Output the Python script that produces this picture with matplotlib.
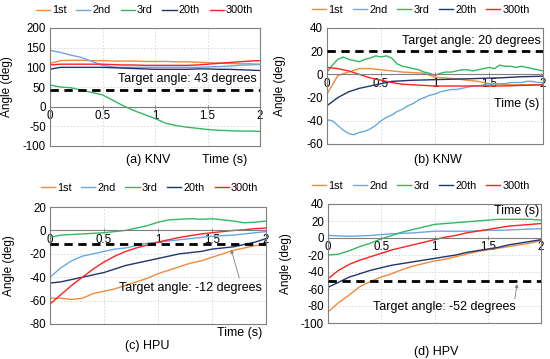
import numpy as np
import matplotlib
matplotlib.use("Agg")
import matplotlib.pyplot as plt

plt.rcParams['font.family'] = ['Liberation Sans', 'DejaVu Sans']
plt.rcParams['font.size'] = 8.3
plt.rcParams['axes.unicode_minus'] = False

# time axes (s)
t = np.round(np.arange(0, 2.01, 0.1), 2)
t_fine = np.round(np.arange(0, 2.001, 0.05), 2)

labels = ['1st', '2nd', '3rd', '20th', '300th']
colors = ['#F08A3C', '#6AA8E0', '#33B860', '#22336E', '#FF2020']

# (a) KNV
knv_1st = [110, 117, 118, 118, 117, 117, 116, 116, 116, 115, 115, 115, 114, 114, 113, 112, 111, 110, 109, 109, 108]
knv_2nd = [143, 138, 131, 125, 115, 105, 101, 100, 100, 100, 100, 100, 100, 100, 100, 101, 102, 103, 105, 106, 107]
knv_3rd = [55, 50, 48, 42, 36, 30, 16, 2, -10, -20, -30, -42, -48, -52, -55, -58, -60, -61, -62, -62, -63]
knv_20th = [95, 100, 100, 100, 100, 100, 99, 98, 97, 96, 95, 95, 95, 95, 96, 96, 95, 95, 94, 93, 92]
knv_300th = [106, 108, 108, 108, 108, 108, 107, 106, 106, 105, 105, 105, 105, 105, 106, 108, 110, 112, 114, 116, 117]

# (b) KNW
knw_1st = [-17, -1, 2, 5, 5, 4, 3, 2, 1.5, 1, -2.5, -3, -4, -5, -6, -8, -8.5, -9, -9, -9, -9]
knw_2nd = [-39, -40, -44, -48, -51, -52, -50, -49, -47, -44, -40, -37, -35, -32, -30, -27, -25, -22, -20, -18,
           -17, -15, -14, -13, -13, -12, -11, -10, -10, -9, -9, -8, -8, -8, -7, -7, -7, -6, -6, -7, -7]
knw_3rd = [2, 8, 13, 15, 13, 12, 11, 13, 14, 16, 15, 16, 14, 9, 7, 6, 5, 4, 2, 1,
           -1, 1, 2, 2, 3, 4, 4, 3, 4, 5, 6, 5, 8, 7, 7, 6, 7, 6, 5, 4, 3]
knw_20th = [-27, -20, -15, -12, -10, -8, -6, -5.5, -5, -4.8, -4.5, -4.3, -4, -3.8, -3.5, -3.2, -3, -2.5, -2, -1.8, -1.5]
knw_300th = [6, 5, 3, 0, -3, -5, -7, -8.5, -9, -9.5, -10, -10, -10, -10, -10, -10, -10, -9.8, -9.5, -9.2, -9]

# (c) HPU
hpu_1st = [-58, -58, -59, -58, -54, -52, -50, -47, -44, -41, -37, -34, -31, -28, -26, -23, -20, -17, -15, -13, -12]
hpu_2nd = [-40, -32, -26, -22, -20, -18, -16, -15, -13, -11, -10, -9, -8, -7, -6, -5, -4.5, -4, -3, -2, -1]
hpu_3rd = [-6, -4, -3.5, -3, -2.5, -2, -1, 0, 2, 4, 7, 9, 9.5, 10, 9.5, 10, 9, 8, 6.5, 7, 8]
hpu_20th = [-45, -44, -42, -40, -38, -36, -33, -30, -28, -26, -24, -22, -20, -19, -18, -16, -15, -14, -12, -10, -7]
hpu_300th = [-63, -55, -47, -40, -33, -27, -22, -18, -15, -12.5, -10, -8, -6, -4.5, -3, -2, -1, 0, 0.5, 1.5, 2]

# (d) HPV
hpv_1st = [-87, -76, -67, -57, -51, -46, -42, -37, -33, -30, -27, -25, -22, -19, -16, -14, -12, -10, -8, -6, -3]
hpv_2nd = [3, 2.5, 2, 2.5, 3, 4, 5, 5.5, 6, 7, 8, 8, 8, 8, 8.5, 9, 9, 9.5, 10, 10.5, 11]
hpv_3rd = [-20, -19, -15, -10, -6, -1, 3, 7, 10, 13, 16, 17, 18, 19, 20, 21, 22, 22, 22, 22, 21]
hpv_20th = [-58, -52, -46, -42, -38, -35, -32, -30, -28, -26, -24, -22, -20, -17, -15, -13, -11, -8, -6, -4, -2]
hpv_300th = [-48, -38, -31, -26, -22, -18, -14, -11, -8, -5, -2, 1, 3, 6, 8, 10, 12, 14, 15, 16, 17]

targets = [43, 20, -12, -51]
target_text = ['Target angle: 43 degrees', 'Target angle: 20 degrees',
               'Target angle: -12 degrees', 'Target angle: -52 degrees']

panels = [
    dict(name='(a) KNV', rect=(50, 28, 260, 146), ylim=(-100, 200), yticks=range(-100, 201, 50),
         series=[(t, knv_1st), (t, knv_2nd), (t, knv_3rd), (t, knv_20th), (t, knv_300th)],
         leg=(0.45, 1.15), time=(0.83, -0.12), title=(0.467, -0.12), ylab=-0.175),
    dict(name='(b) KNW', rect=(327, 28, 543, 144), ylim=(-60, 40), yticks=range(-60, 41, 20),
         series=[(t, knw_1st), (t_fine, knw_2nd), (t_fine, knw_3rd), (t, knw_20th), (t, knw_300th)],
         leg=(0.435, 1.155), time=(0.88, 0.345), title=(0.514, -0.14), ylab=-0.19),
    dict(name='(c) HPU', rect=(50, 207, 266, 324), ylim=(-80, 20), yticks=range(-80, 21, 20),
         series=[(t, hpu_1st), (t, hpu_2nd), (t, hpu_3rd), (t, hpu_20th), (t, hpu_300th)],
         leg=(0.46, 1.16), time=(0.88, -0.077), title=(0.45, -0.19), ylab=-0.16),
    dict(name='(d) HPV', rect=(328, 204, 541, 323), ylim=(-100, 40), yticks=range(-100, 41, 20),
         series=[(t, hpv_1st), (t, hpv_2nd), (t, hpv_3rd), (t, hpv_20th), (t, hpv_300th)],
         leg=(0.437, 1.15), time=(0.887, 0.94), title=(0.51, -0.245), ylab=-0.17),
]

W, H = 550, 359
fig = plt.figure(figsize=(W / 100, H / 100), dpi=100)

for i, p in enumerate(panels):
    x0, y0, x1, y1 = p['rect']
    ax = fig.add_axes([x0 / W, 1 - y1 / H, (x1 - x0) / W, (y1 - y0) / H])
    for (tt, yy), lab, c in zip(p['series'], labels, colors):
        ax.plot(tt, yy, color=c, lw=1.0, label=lab)
    ax.axhline(targets[i], color='black', lw=2, dashes=(3, 2), zorder=5)

    ax.set_xlim(0, 2)
    ax.set_ylim(*p['ylim'])
    ax.set_yticks(list(p['yticks']))
    ax.set_xticks([0, 0.5, 1, 1.5, 2])
    ax.set_xticklabels(['0', '0.5', '1', '1.5', '2'])
    ax.grid(True, color='#D6D6D6', lw=0.6, ls=(0, (2, 2)))
    ax.set_axisbelow(True)

    # x axis drawn through zero, box kept around the plot
    ax.spines['bottom'].set_position(('data', 0))
    for s in ax.spines.values():
        s.set_color('#7F7F7F')
        s.set_linewidth(0.8)
    ax.plot([0, 1], [0, 0], transform=ax.transAxes, color='#7F7F7F', lw=0.8, clip_on=False)
    ax.tick_params(axis='x', direction='inout', length=3, width=0.6, color='#7F7F7F', pad=1)
    ax.tick_params(axis='y', length=0, pad=3)

    ax.set_ylabel('Angle (deg)', fontsize=8.5)
    ax.yaxis.set_label_coords(p['ylab'], 0.5)

    ax.legend(ncol=5, loc='center', bbox_to_anchor=p['leg'], frameon=False,
              handlelength=1.3, handletextpad=0.2, columnspacing=0.9, fontsize=7.8)
    ax.text(*p['time'], 'Time (s)', transform=ax.transAxes, ha='center', va='center', fontsize=9)
    ax.text(*p['title'], p['name'], transform=ax.transAxes, ha='center', va='center', fontsize=9)

    if i == 0:
        ax.text(1.97, 70, target_text[i], ha='right', va='center', fontsize=9)
    elif i == 1:
        ax.text(1.98, 29, target_text[i], ha='right', va='center', fontsize=9)
    elif i == 2:
        ax.annotate('', xy=(1.67, -14), xytext=(1.76, -43),
                    arrowprops=dict(arrowstyle='-|>', color='#7F7F7F', lw=0.6, mutation_scale=5))
        ax.text(1.30, -49, target_text[i], ha='center', va='center', fontsize=9)
    else:
        ax.annotate('', xy=(1.78, -51), xytext=(1.75, -75),
                    arrowprops=dict(arrowstyle='-|>', color='#7F7F7F', lw=0.6, mutation_scale=5))
        ax.text(1.09, -81, target_text[i], ha='center', va='center', fontsize=9)

fig.savefig('out.png', dpi=100)
